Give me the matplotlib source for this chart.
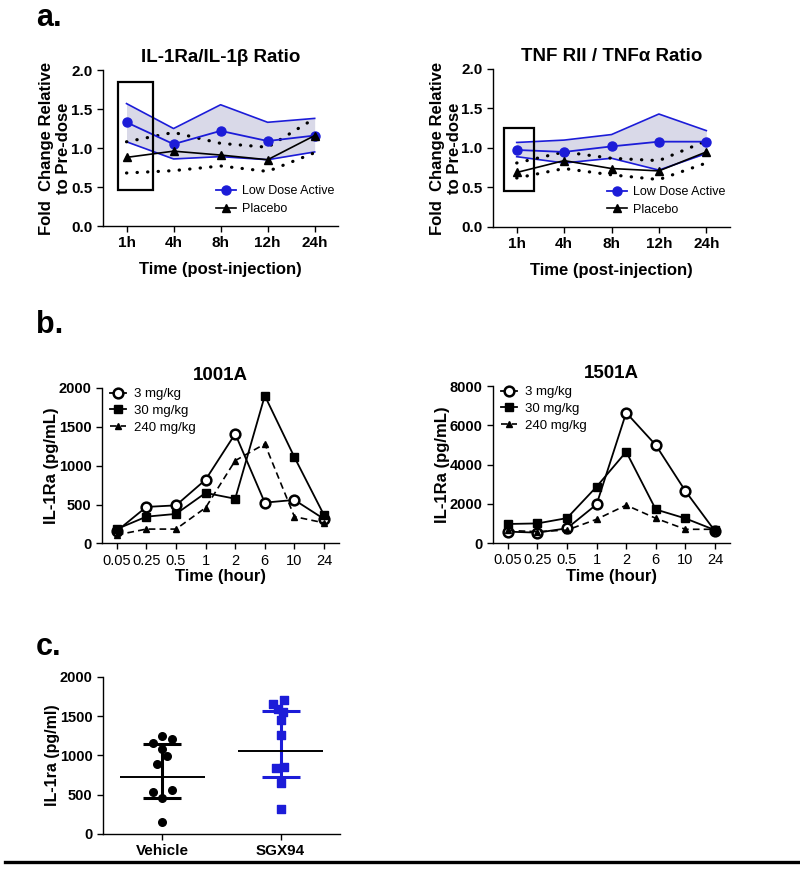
import matplotlib
matplotlib.use("Agg")
import matplotlib.pyplot as plt
from matplotlib.patches import Rectangle
from matplotlib.lines import Line2D
import numpy as np

plt.rcParams['font.family'] = ['Liberation Sans', 'DejaVu Sans']
plt.rcParams['axes.linewidth'] = 1.0

BLUE = '#1c1cd8'
FILL = '#d9d9e8'

# ── PANEL a DATA ──────────────────────────────────────────────────────────────
a_times = ["1h", "4h", "8h", "12h", "24h"]

il1_active = [1.33, 1.05, 1.22, 1.09, 1.16]
il1_active_hi = [1.57, 1.25, 1.555, 1.33, 1.38]
il1_active_lo = [1.08, 0.86, 0.89, 0.85, 0.95]
il1_placebo = [0.88, 0.96, 0.91, 0.85, 1.16]
il1_placebo_hi = [1.08, 1.20, 1.06, 1.01, 1.38]
il1_placebo_lo = [0.68, 0.71, 0.77, 0.70, 0.94]

tnf_active = [0.975, 0.95, 1.02, 1.08, 1.08]
tnf_active_hi = [1.07, 1.10, 1.17, 1.43, 1.22]
tnf_active_lo = [0.89, 0.81, 0.87, 0.72, 0.93]
tnf_placebo = [0.69, 0.84, 0.74, 0.71, 0.95]
tnf_placebo_hi = [0.81, 0.95, 0.87, 0.84, 1.09]
tnf_placebo_lo = [0.62, 0.74, 0.66, 0.60, 0.81]

# ── PANEL b DATA ──────────────────────────────────────────────────────────────
b_times = ["0.05", "0.25", "0.5", "1", "2", "6", "10", "24"]
dose_labels = ["3 mg/kg", "30 mg/kg", "240 mg/kg"]

s1001_3 = [160, 470, 490, 820, 1410, 525, 560, 315]
s1001_30 = [185, 345, 380, 650, 575, 1900, 1110, 365]
s1001_240 = [110, 185, 185, 460, 1065, 1280, 345, 265]

s1501_3 = [580, 530, 750, 1970, 6640, 4990, 2650, 610]
s1501_30 = [970, 1000, 1270, 2870, 4650, 1710, 1255, 660]
s1501_240 = [640, 580, 660, 1210, 1930, 1260, 700, 700]

# ── PANEL c DATA ──────────────────────────────────────────────────────────────
c_groups = ["Vehicle", "SGX94"]
vehicle_vals = [1240, 1205, 1155, 1085, 995, 890, 530, 560, 455, 157]
sgx_vals = [1652, 1698, 1588, 1546, 1444, 1261, 837, 850, 646, 322]
c_median = [722, 1061]
c_q1 = [455, 726]
c_q3 = [1138, 1563]

# horizontal scatter spread (GraphPad-style jitter)
vehicle_jit = [0, 0.08, -0.08, 0, 0.04, -0.04, -0.08, 0.08, 0, 0]
sgx_jit = [-0.06, 0.03, -0.02, 0.02, 0, 0, -0.04, 0.025, 0, 0]


fig = plt.figure(figsize=(8, 8.69), dpi=100)


def ratio_panel(rect, title, act, act_hi, act_lo, plc, plc_hi, plc_lo, box, leg_xy, lab_x):
    ax = fig.add_axes(rect)
    x = np.arange(len(a_times))
    ax.fill_between(x, act_lo, act_hi, color=FILL, lw=0)
    ax.plot(x, act_hi, color=BLUE, lw=1.2)
    ax.plot(x, act_lo, color=BLUE, lw=1.2)
    ax.plot(x, plc_hi, color='black', lw=2.3, ls=(0, (0.1, 3.2)), dash_capstyle='round')
    ax.plot(x, plc_lo, color='black', lw=2.3, ls=(0, (0.1, 3.2)), dash_capstyle='round')
    ax.plot(x, act, color=BLUE, lw=1.3, marker='o', ms=6.5, label='Low Dose Active')
    ax.plot(x, plc, color='black', lw=1.2, marker='^', ms=5.5, label='Placebo')
    ax.add_patch(Rectangle((box[0], box[1]), box[2], box[3], fill=False,
                           ec='black', lw=1.6, zorder=5))
    ax.set_xlim(-0.5, 4.5)
    ax.set_ylim(0, 2.0)
    ax.set_yticks([0, 0.5, 1.0, 1.5, 2.0])
    ax.set_yticklabels(['0.0', '0.5', '1.0', '1.5', '2.0'])
    ax.set_xticks(x)
    ax.set_xticklabels(a_times)
    for s in ['top', 'right']:
        ax.spines[s].set_visible(False)
    ax.tick_params(labelsize=11, width=1, length=4)
    for t in ax.get_xticklabels() + ax.get_yticklabels():
        t.set_fontweight('bold')
    ax.set_title(title, fontsize=13.5, fontweight='bold', pad=6)
    ax.set_xlabel('Time (post-injection)', fontsize=12, fontweight='bold', labelpad=8)
    ax.set_ylabel('Fold  Change Relative\nto Pre-dose', fontsize=12, fontweight='bold',
                  linespacing=1.2)
    ax.yaxis.set_label_coords(lab_x, 0.5)
    ax.legend(loc='upper left', bbox_to_anchor=leg_xy, frameon=False, fontsize=9,
              handlelength=1.6, handletextpad=0.5, borderpad=0, borderaxespad=0,
              labelspacing=0.45)
    return ax


ratio_panel([0.12875, 0.7399, 0.294, 0.1795], 'IL-1Ra/IL-1β Ratio',
            il1_active, il1_active_hi, il1_active_lo,
            il1_placebo, il1_placebo_hi, il1_placebo_lo,
            (-0.19, 0.46, 0.76, 1.39), (0.48, 0.26), -0.135)
ratio_panel([0.61625, 0.7388, 0.29625, 0.1818], 'TNF RII / TNFα Ratio',
            tnf_active, tnf_active_hi, tnf_active_lo,
            tnf_placebo, tnf_placebo_hi, tnf_placebo_lo,
            (-0.26, 0.46, 0.62, 0.79), (0.48, 0.26), -0.13)


def pk_panel(rect, title, s3, s30, s240, ymax, ystep, lab_x):
    ax = fig.add_axes(rect)
    x = np.arange(len(b_times))
    ax.plot(x, s3, color='black', lw=1.3, marker='o', ms=7, mfc='white', mew=1.8,
            label=dose_labels[0])
    ax.plot(x, s30, color='black', lw=1.3, marker='s', ms=5.5, label=dose_labels[1])
    ax.plot(x, s240, color='black', lw=1.2, ls='--', dashes=(4, 2.5), marker='^', ms=5,
            label=dose_labels[2])
    ax.set_xlim(-0.5, 7.5)
    ax.set_ylim(0, ymax)
    ax.set_yticks(np.arange(0, ymax + 1, ystep))
    ax.set_xticks(x)
    ax.set_xticklabels(b_times)
    for s in ['top', 'right']:
        ax.spines[s].set_visible(False)
    ax.tick_params(axis='y', labelsize=10.5, width=1, length=4)
    ax.tick_params(axis='x', labelsize=10.5, width=1, length=4)
    for t in ax.get_yticklabels():
        t.set_fontweight('bold')
    ax.set_title(title, fontsize=13.5, fontweight='bold', pad=6)
    ax.set_xlabel('Time (hour)', fontsize=12, fontweight='bold', labelpad=1)
    ax.set_ylabel('IL-1Ra (pg/mL)', fontsize=12, fontweight='bold')
    ax.yaxis.set_label_coords(lab_x, 0.5)
    ax.legend(loc='upper left', bbox_to_anchor=(0.035, 1.0), frameon=False,
              fontsize=9.5, handlelength=1.2, handletextpad=0.6, borderpad=0,
              borderaxespad=0, labelspacing=0.35)
    return ax


pk_panel([0.1275, 0.3746, 0.296, 0.179], '1001A', s1001_3, s1001_30, s1001_240,
         2000, 500, -0.18)
pk_panel([0.61625, 0.3751, 0.296, 0.1807], '1501A', s1501_3, s1501_30, s1501_240,
         8000, 2000, -0.18)

# ── PANEL c ───────────────────────────────────────────────────────────────────
axc = fig.add_axes([0.12875, 0.0403, 0.296, 0.181])
axc.scatter(0 + np.array(vehicle_jit), vehicle_vals, s=30, color='black', zorder=3)
axc.scatter(1 + np.array(sgx_jit), sgx_vals, s=26, marker='s', color=BLUE, zorder=3)
for i, col in enumerate(['black', BLUE]):
    axc.errorbar(i, c_median[i], yerr=[[c_median[i] - c_q1[i]], [c_q3[i] - c_median[i]]],
                 fmt='none', ecolor=col, elinewidth=2.2, capsize=13.5, capthick=2.2, zorder=2)
    axc.hlines(c_median[i], i - 0.36, i + 0.36, color='black', lw=1.4, zorder=4)
axc.set_xlim(-0.5, 1.5)
axc.set_ylim(0, 2000)
axc.set_yticks([0, 500, 1000, 1500, 2000])
axc.set_xticks([0, 1])
axc.set_xticklabels(c_groups)
for s in ['top', 'right']:
    axc.spines[s].set_visible(False)
axc.tick_params(labelsize=11, width=1, length=4)
axc.tick_params(axis='y', labelsize=10.5)
for t in axc.get_xticklabels() + axc.get_yticklabels():
    t.set_fontweight('bold')
axc.set_ylabel('IL-1ra (pg/ml)', fontsize=11.5, fontweight='bold')
axc.yaxis.set_label_coords(-0.18, 0.5)

# panel letters and bottom rule
for lab, y in [('a.', 0.979), ('b.', 0.626), ('c.', 0.255)]:
    fig.text(0.045, y, lab, fontsize=22, fontweight='bold', va='center')
fig.add_artist(Line2D([0.006, 1.0], [0.008, 0.008], color='black', lw=2.4))

fig.savefig('out.png', dpi=100)
